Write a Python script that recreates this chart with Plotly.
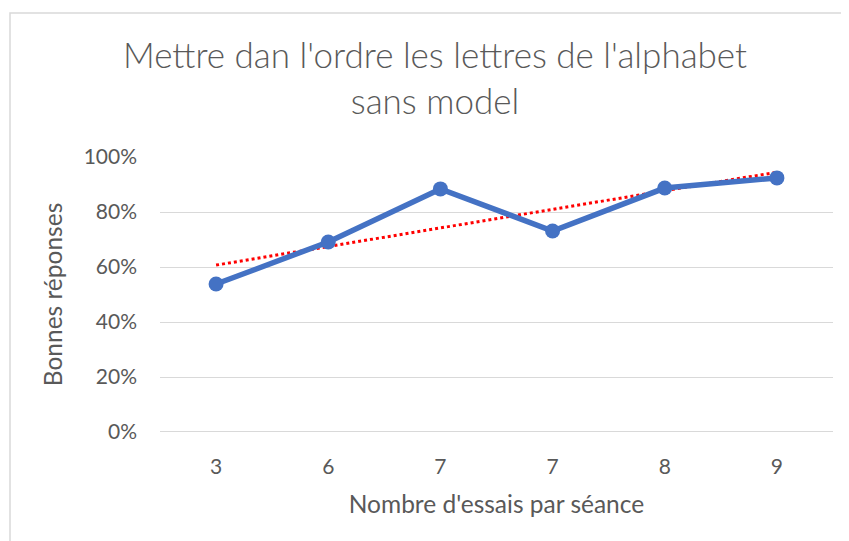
import numpy as np
import plotly.graph_objects as go

categories = ["3", "6", "7", "7", "8", "9"]
values = [0.538, 0.691, 0.884, 0.731, 0.887, 0.924]

xpos = list(range(len(categories)))
coef = np.polyfit(xpos, values, 1)
trend = [coef[0] * x + coef[1] for x in xpos]

fig = go.Figure()
fig.add_trace(go.Scatter(x=xpos, y=trend, mode="lines",
                         line=dict(color="#FF0000", width=3, dash="dot"),
                         showlegend=False, hoverinfo="skip"))
fig.add_trace(go.Scatter(x=xpos, y=values, mode="lines+markers",
                         line=dict(color="#4472C4", width=5.5),
                         marker=dict(color="#4472C4", size=15),
                         showlegend=False))

# page has an 8px body margin; figure coordinates are page - 8
OFF = 8
W, H = 849 - OFF, 541 - OFF
L, R = 160 - OFF, 16
T = 157 - OFF
B = H - (432 - OFF)
pw, ph = W - L - R, H - T - B

fig.add_shape(type="rect", xref="paper", yref="paper",
              x0=(10 - OFF - L) / pw, x1=1.2, y0=-0.6, y1=(H - B - (13 - OFF)) / ph,
              line=dict(color="#D9D9D9", width=1.5), fillcolor="rgba(0,0,0,0)", layer="below")

font_family = "Lato, 'Open Sans', sans-serif"
fig.update_layout(
    width=W, height=H,
    margin=dict(l=L, r=R, t=T, b=B),
    paper_bgcolor="white", plot_bgcolor="white",
    title=dict(text="Mettre dan l'ordre les lettres de l'alphabet<br>sans model",
               x=(435 - OFF) / W, xanchor="center", y=1 - (68 - OFF) / H, yanchor="middle",
               font=dict(family=font_family, size=35, color="#595959", weight=300)),
    font=dict(family=font_family, color="#595959"),
    xaxis=dict(range=[-0.5, 5.5], tickvals=xpos, ticktext=categories,
               showgrid=False, zeroline=False, showline=False, ticks="",
               tickfont=dict(size=21, color="#595959"), ticklabelstandoff=20,
               title=dict(text="Nombre d'essais par séance", font=dict(size=24.5, color="#595959"), standoff=18),
               fixedrange=True),
    yaxis=dict(range=[0, 1.0], dtick=0.2, tickformat=".0%",
               showgrid=True, gridcolor="#D9D9D9", gridwidth=1.2,
               zeroline=False, showline=False, ticks="",
               tickfont=dict(size=21, color="#595959"), ticklabelstandoff=22,
               title=dict(text="Bonnes réponses", font=dict(size=24.5, color="#595959"), standoff=14),
               fixedrange=True),
)
fig.add_shape(type="line", xref="paper", yref="y", x0=0, x1=1, y0=0, y1=0,
              line=dict(color="#D9D9D9", width=2), layer="below")

fig.write_html("out.html")
